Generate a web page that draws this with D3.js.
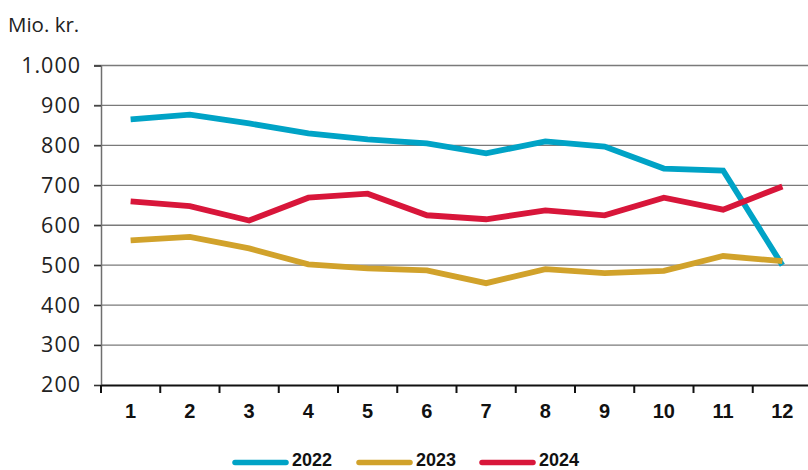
<!DOCTYPE html>
<html><head><meta charset="utf-8">
<script src="https://cdn.jsdelivr.net/npm/d3@7"></script>
<style>body{margin:0;background:#fff}svg{display:block}</style>
</head><body>
<svg id="c" width="808" height="470"></svg>
<script>
const months = ["1","2","3","4","5","6","7","8","9","10","11","12"];
const s2022 = [865, 877, 855, 830, 815, 805, 780, 810, 797, 742, 737, 500];
const s2023 = [562, 571, 542, 502, 492, 487, 455, 490, 480, 486, 523, 510];
const s2024 = [660, 648, 612, 669, 679, 625, 615, 637, 625, 669, 639, 697];
const yTicks = [200, 300, 400, 500, 600, 700, 800, 900, 1000];
const seriesNames = ["2022", "2023", "2024"];
const colors = ["#00a3c6", "#d1a22b", "#d8163a"];
const series = [s2022, s2023, s2024];

const svg = d3.select("#c");
const x = d3.scaleBand().domain(months).range([101, 812]);
const y = d3.scaleLinear().domain([200, 1000]).range([385, 65.5]);
const fmt = v => v >= 1000 ? d3.format(",")(v).replace(",", ".") : String(v);

// gridlines
svg.append("g").selectAll("line").data(yTicks.filter(t => t > 200)).join("line")
  .attr("x1", 94).attr("x2", 808).attr("y1", d => y(d)).attr("y2", d => y(d))
  .attr("stroke", "#7a7a7a").attr("stroke-width", 1.3);
// y axis
const ya = svg.append("g").attr("transform", "translate(101,0)")
  .call(d3.axisLeft(y).tickValues(yTicks).tickSize(7).tickPadding(13).tickFormat(fmt));
ya.select(".domain").attr("stroke", "#6f6f6f").attr("stroke-width", 1.5);
ya.selectAll(".tick line").attr("stroke", "#333").attr("stroke-width", 1.3);
ya.selectAll("text").attr("font-family", "'Open Sans', sans-serif").attr("font-size", 21.5)
  .attr("letter-spacing", "1px").attr("fill", "#222");

// x axis
const xa = svg.append("g").attr("transform", "translate(0,385)")
  .call(d3.axisBottom(x).tickSize(0).tickPadding(19));
xa.select(".domain").attr("stroke", "#111").attr("stroke-width", 2.2);
xa.selectAll("text").attr("font-family", "'Liberation Sans', Arial, sans-serif").attr("font-weight", "bold").attr("font-size", 20).attr("fill", "#111");
// x boundary ticks
const bounds = months.map(m => x(m));
svg.append("g").selectAll("line").data(bounds).join("line")
  .attr("x1", d => d).attr("x2", d => d).attr("y1", 385).attr("y2", 393)
  .attr("stroke", "#111").attr("stroke-width", 2);

// lines
const line = d3.line().x((d, i) => x(months[i]) + x.bandwidth() / 2).y(d => y(d));
svg.append("g").selectAll("path").data(series).join("path")
  .attr("d", d => line(d)).attr("fill", "none")
  .attr("stroke", (d, i) => colors[i]).attr("stroke-width", 5.8)
  .attr("stroke-linejoin", "miter").attr("stroke-linecap", "butt");

// title
svg.append("text").attr("x", 8).attr("y", 32).text("Mio. kr.")
  .attr("font-family", "'Open Sans', sans-serif").attr("font-size", 20.5).attr("fill", "#222");

// legend
const lg = svg.append("g");
const lx = [233, 357, 480];
seriesNames.forEach((n, i) => {
  lg.append("line").attr("x1", lx[i] + 2).attr("x2", lx[i] + 53).attr("y1", 462.5).attr("y2", 462.5)
    .attr("stroke", colors[i]).attr("stroke-width", 5.5).attr("stroke-linecap", "round");
  lg.append("text").attr("x", lx[i] + 59).attr("y", 465.5).text(n)
    .attr("font-family", "'Liberation Sans', Arial, sans-serif").attr("font-weight", "bold")
    .attr("font-size", 18).attr("fill", "#111");
});
</script>
</body></html>
